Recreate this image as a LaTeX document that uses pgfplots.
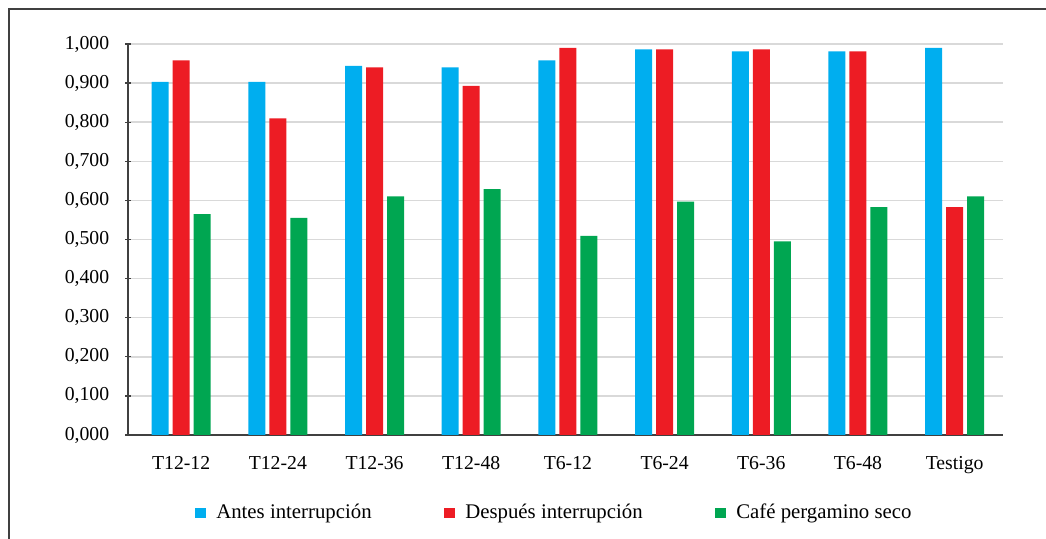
\documentclass[border=0pt]{standalone}
\usepackage{pgfplots}
\pgfplotsset{compat=1.18}
\usepackage{fontspec}
\setmainfont{Liberation Serif}
\definecolor{cblue}{HTML}{00AEEF}
\definecolor{cred}{HTML}{ED1C24}
\definecolor{cgreen}{HTML}{00A651}
\definecolor{cgrid}{HTML}{D9D9D9}
\definecolor{caxis}{HTML}{404040}
\begin{document}
\rmfamily\fontsize{14.8pt}{17pt}\selectfont
\begin{tikzpicture}
\path[use as bounding box] (0,0) rectangle (784.5pt,404.25pt);
\draw[caxis, line width=1.5pt] (6.4pt,-5pt) -- (6.4pt,397.5pt) -- (800pt,397.5pt);
\begin{axis}[
  at={(96pt,78pt)}, anchor=south west,
  scale only axis,
  width=656.25pt, height=293.25pt,
  ymin=0, ymax=1,
  xmin=-0.55, xmax=8.5,
  ytick={0,0.1,...,1.0},
  xtick={0,1,2,3,4,5,6,7,8},
  xticklabels={T12-12,T12-24,T12-36,T12-48,T6-12,T6-24,T6-36,T6-48,Testigo},
  axis x line=bottom, axis y line=left,
  axis line style={-, caxis, line width=1.1pt},
  x tick style={draw=none},
  y tick style={caxis, line width=1pt},
  tick align=center, major tick length=4pt,
  ymajorgrids, grid style={cgrid, line width=1.1pt},
  yticklabel style={xshift=-7pt, /pgf/number format/fixed, /pgf/number format/fixed zerofill, /pgf/number format/precision=3, /pgf/number format/use comma, /pgf/number format/assume math mode=true},
  xticklabel style={yshift=-7pt},
  ybar=3pt, bar width=12.75pt,
  legend columns=3,
  legend style={draw=none, inner sep=0pt, at={(0.0766,-0.1995)}, anchor=west,
    nodes={inner sep=0pt, font=\fontsize{15.6pt}{18pt}\selectfont},
    /tikz/every odd column/.append style={column sep=7.5pt},
    /tikz/every even column/.append style={column sep=54.5pt}},
  legend image code/.code={\fill[#1] (0pt,-4.1pt) rectangle (8.25pt,4.1pt);},
]
\addplot[fill=cblue, draw=none] coordinates {(0,0.903) (1,0.903) (2,0.944) (3,0.940) (4,0.958) (5,0.986) (6,0.981) (7,0.981) (8,0.990)};
\addplot[fill=cred, draw=none] coordinates {(0,0.958) (1,0.810) (2,0.940) (3,0.893) (4,0.990) (5,0.986) (6,0.986) (7,0.981) (8,0.583)};
\addplot[fill=cgreen, draw=none] coordinates {(0,0.565) (1,0.555) (2,0.610) (3,0.629) (4,0.509) (5,0.597) (6,0.495) (7,0.583) (8,0.610)};
\legend{Antes interrupción, Después interrupción, Café pergamino seco}
\end{axis}
\end{tikzpicture}
\end{document}
